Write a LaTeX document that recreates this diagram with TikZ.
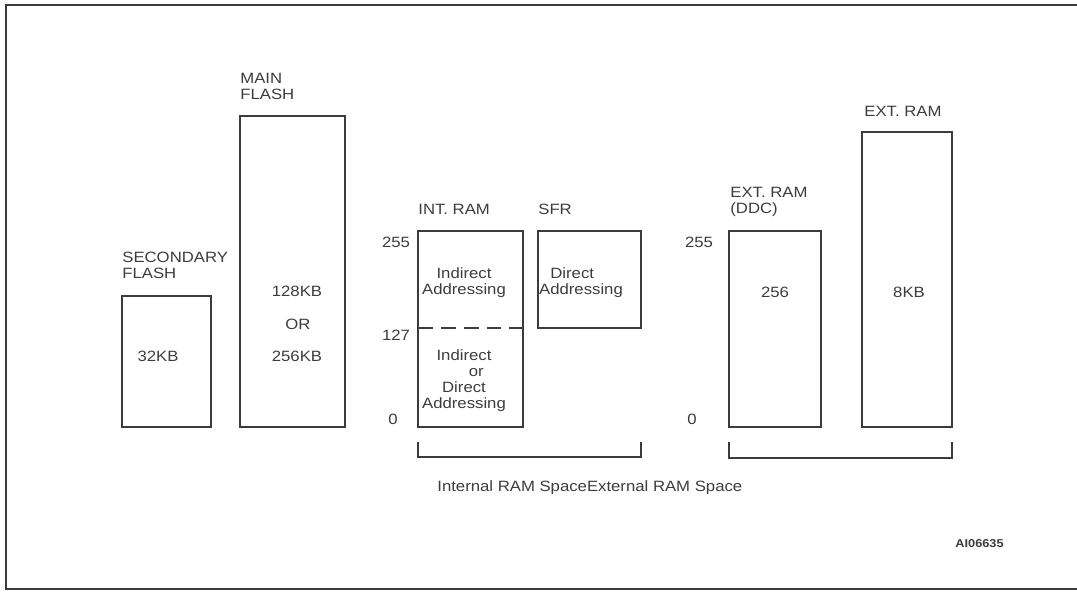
\documentclass[tikz,border=0pt]{standalone}
\usepackage{fontspec}
\setmainfont{Liberation Sans}[FakeStretch=1.12]
\usetikzlibrary{positioning}
\definecolor{myink}{RGB}{60,60,60}

\tikzset{
  membox/.style={draw=myink, line width=0.8pt},
  lbl/.style={inner sep=0pt, anchor=base west, align=left, text=myink,
    font=\fontsize{8.5}{9.1}\selectfont},
  val/.style={inner sep=0pt, anchor=base, align=center, text=myink,
    font=\fontsize{8.5}{9.1}\selectfont},
  brace/.style={draw=myink, line width=0.7pt}
}

\begin{document}
\begin{tikzpicture}[x=0.02cm, y=-0.02cm]
  \useasboundingbox (0,0) rectangle (1077,592);
  \def\bot{427}
  \def\top{231}
  \def\mid{328}

%frame:
  \draw[line width=1.2pt, color=myink] (1085,5) -- (6,5) -- (6,589) -- (1085,589);

%flash (multi-line labels sit on their last line):
  \draw[membox] (122,296) rectangle (211,\bot);
  \draw[membox] (240,116) rectangle (345,\bot);
  \node[lbl] (secl) at (122,278) {SECONDARY\\FLASH};
  \node[lbl] (mainl) at (240,99) {MAIN\\FLASH};
  \node[val] (secv) at (158,361) {32KB};
  \node[val] (mainv1) at (297,296) {128KB};
  \node[val] (mainv2) at (298,329) {OR};
  \node[val] (mainv3) at (297,361) {256KB};

%internal RAM:
  \draw[membox] (418,\top) rectangle (523,\bot);
  \draw[membox, dash pattern=on 8.5pt off 4.5pt] (418,\mid) -- (523,\mid);
  \draw[membox] (538,\top) rectangle (641,\mid);
  \node[lbl] (intl) at (418,214) {INT. RAM};
  \node[lbl] (sfrl) at (538,214) {SFR};
  \node[val] (intv1) at (464,294) {Indirect\\Addressing};
  \node[val] (intv2) at (464,408) {Indirect\\\hspace{14pt}or\\Direct\hspace{8pt}\\Addressing};
  \node[val] (sfrv) at (581,294) {\hspace{-10pt}Direct\\Addressing};
  \node[val] (i255) at (396,247) {255};
  \node[val] (i127) at (396,340) {127};
  \node[val] (i0) at (393,424) {0};

%external RAM:
  \draw[membox] (729,\top) rectangle (821,\bot);
  \draw[membox] (862,132) rectangle (952,\bot);
  \node[lbl] (ddcl) at (730,213) {EXT. RAM\\(DDC)};
  \node[lbl] (extl) at (864,116) {EXT. RAM};
  \node[val] (ddcv) at (775,297) {256};
  \node[val] (extv) at (909,297) {8KB};
  \node[val] (e255) at (699,247) {255};
  \node[val] (e0) at (692,424) {0};

%brackets:
  \coordinate (ia) at (418,442);
  \coordinate (ib) at (641,442);
  \coordinate (ea) at (729,442);
  \coordinate (eb) at (952,442);
  \draw[brace] (ia) -- ++(0,15) -| (ib);
  \draw[brace] (ea) -- ++(0,16) -| (eb);
  \node[lbl] (spc) at (437,491) {Internal RAM SpaceExternal RAM Space};

  \node[lbl, font=\fontsize{6.5}{7}\selectfont\bfseries] (fig) at (955,547) {AI06635};
\end{tikzpicture}
\end{document}
